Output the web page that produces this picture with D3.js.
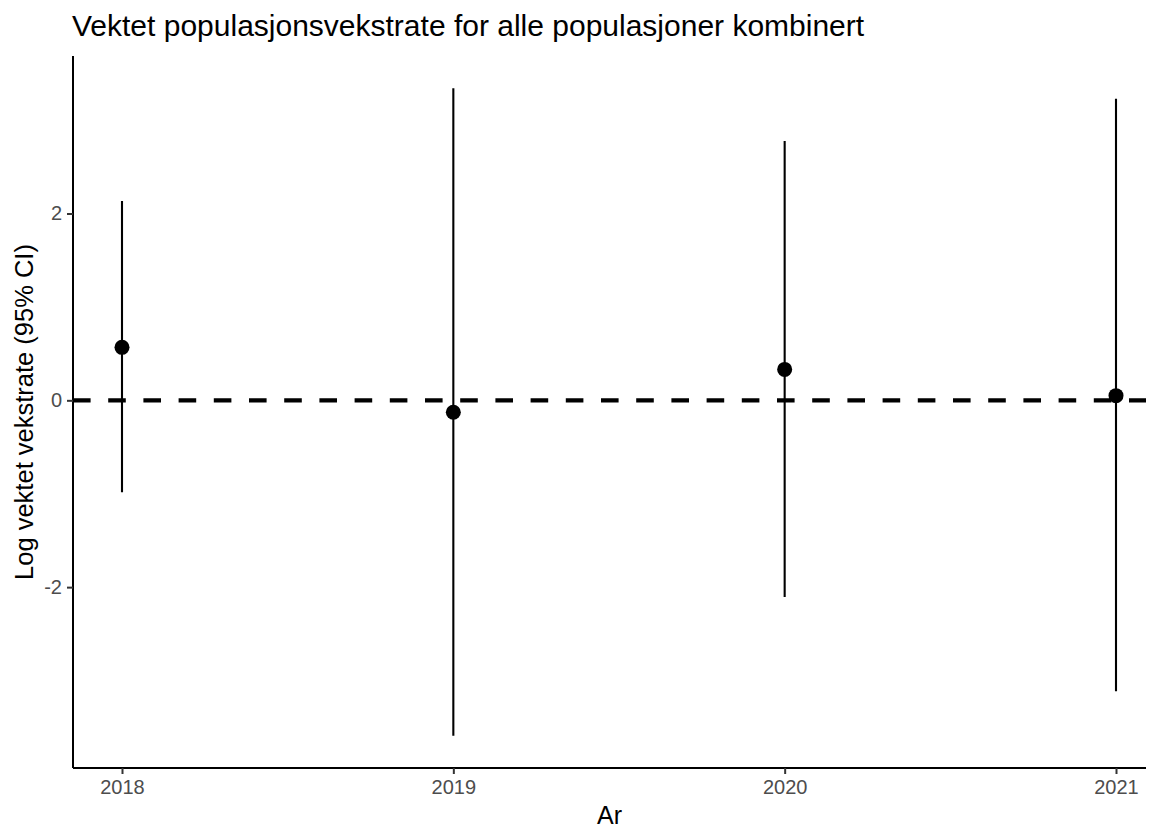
<!DOCTYPE html>
<html>
<head>
<meta charset="utf-8">
<script src="https://cdn.jsdelivr.net/npm/d3@7"></script>
<style>
  html, body { margin: 0; padding: 0; background: #ffffff; }
  svg { display: block; font-family: "Liberation Sans", Arial, sans-serif; }
</style>
</head>
<body>
<svg id="chart" width="1159" height="828"></svg>
<script>
// Weighted log growth rate per year with 95% confidence interval
const years = [2018, 2019, 2020, 2021];
const estimate = [0.567, -0.128, 0.331, 0.050];
const lower = [-0.984, -3.590, -2.107, -3.116];
const upper = [2.135, 3.340, 2.776, 3.230];
const yTicks = [-2, 0, 2];
const xTicks = [2018, 2019, 2020, 2021];

const titleText = "Vektet populasjonsvekstrate for alle populasjoner kombinert";
const xTitle = "Ar";
const yTitle = "Log vektet vekstrate (95% CI)";

const rows = years.map((y, i) => ({ year: y, est: estimate[i], lo: lower[i], hi: upper[i] }));

const svg = d3.select("#chart");
const panel = { left: 73, right: 1146, top: 56, bottom: 768 };

// Year positions inside the panel
const x = d3.scaleLinear()
  .domain([d3.min(years), d3.max(years)])
  .range([122, 1116]);

// Value axis padded by 5% of the data range on each side
function padded(min, max) {
  const pad = (max - min) * 0.05;
  return [min - pad, max + pad];
}
const y = d3.scaleLinear()
  .domain(padded(d3.min(lower), d3.max(upper)))
  .range([panel.bottom, panel.top]);

// Reference line at zero
svg.append("line")
  .attr("x1", panel.left).attr("x2", panel.right)
  .attr("y1", y(0)).attr("y2", y(0))
  .attr("stroke", "#000").attr("stroke-width", 4.2)
  .attr("stroke-dasharray", "17.6,17.6");

// Confidence interval bars
svg.append("g").selectAll("line")
  .data(rows).join("line")
  .attr("x1", d => x(d.year)).attr("x2", d => x(d.year))
  .attr("y1", d => y(d.lo)).attr("y2", d => y(d.hi))
  .attr("stroke", "#000").attr("stroke-width", 2.1);

// Point estimates
svg.append("g").selectAll("circle")
  .data(rows).join("circle")
  .attr("cx", d => x(d.year)).attr("cy", d => y(d.est))
  .attr("r", 7.5).attr("fill", "#000");

// Axes
const xAxis = d3.axisBottom(x).tickValues(xTicks).tickFormat(d => String(d))
  .tickSize(6).tickSizeOuter(0).tickPadding(6);
const yAxis = d3.axisLeft(y).tickValues(yTicks).tickFormat(d => String(d))
  .tickSize(6).tickSizeOuter(0).tickPadding(5);

const gx = svg.append("g").attr("transform", `translate(0,${panel.bottom})`).call(xAxis);
const gy = svg.append("g").attr("transform", `translate(${panel.left},0)`).call(yAxis);

[gx, gy].forEach(g => {
  g.select(".domain").attr("stroke", "#000").attr("stroke-width", 2);
  g.selectAll(".tick line").attr("stroke", "#333333").attr("stroke-width", 2);
  g.selectAll(".tick text").attr("fill", "#4D4D4D")
    .style("font-size", "20px").style("font-family", "'Liberation Sans', Arial, sans-serif");
});
gx.select(".domain").attr("d", `M${panel.left},0H${panel.right}`);
gy.select(".domain").attr("d", `M0,${panel.bottom}V${panel.top}`);

// Title and axis titles
svg.append("text")
  .attr("x", 72).attr("y", 36)
  .attr("fill", "#000").style("font-size", "30px")
  .text(titleText);

svg.append("text")
  .attr("x", (panel.left + panel.right) / 2).attr("y", 824)
  .attr("text-anchor", "middle")
  .attr("fill", "#000").style("font-size", "25px")
  .text(xTitle);

svg.append("text")
  .attr("transform", `translate(33,${(panel.top + panel.bottom) / 2}) rotate(-90)`)
  .attr("text-anchor", "middle")
  .attr("fill", "#000").style("font-size", "25.5px")
  .text(yTitle);
</script>
</body>
</html>
